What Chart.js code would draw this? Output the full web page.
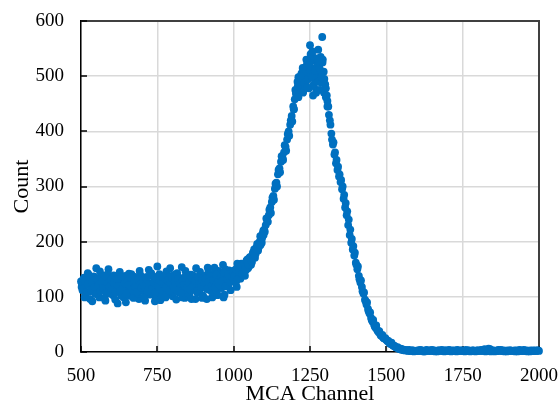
<!DOCTYPE html>
<html><head><meta charset="utf-8">
<script src="https://cdn.jsdelivr.net/npm/chart.js@4"></script>
<style>html,body{margin:0;padding:0;background:#fff}#wrap{width:560px;height:405px}</style>
</head><body><div id="wrap"><canvas id="c" width="560" height="405"></canvas></div>
<script>
// MCA channel readings, series A: channels 500, 505, ... 2000
const channelStartA = 500;
const channelStep = 5;
const countsA = [
  // 500-595
  128,112,135,104,122,140,96,118,131,108,152,125,99,137,115,121,93,128,150,110,
  // 600-695
  132,103,124,117,88,134,109,127,99,138,113,129,102,141,120,107,133,116,96,139,
  // 700-795
  122,111,93,136,125,104,143,118,130,98,155,121,94,135,112,127,146,106,124,138,
  // 800-895
  101,129,117,143,108,132,154,114,98,137,123,105,140,119,128,96,134,111,145,120,
  // 900-995
  102,138,126,153,113,131,99,142,121,109,147,127,116,158,104,136,124,148,112,139,
  // 1000-1095
  130,145,118,152,138,160,142,156,148,168,155,172,163,180,171,190,184,200,205,215,
  // 1100-1195
  222,230,238,248,262,272,283,296,307,322,333,345,352,362,372,385,400,412,428,445,
  // 1200-1295
  458,470,482,476,495,488,510,498,522,505,556,515,465,528,492,520,500,535,571,508,
  // 1300-1395
  485,465,445,420,396,376,358,342,330,318,308,295,278,262,248,230,212,198,186,175,
  // 1400-1495
  162,150,138,126,118,106,95,86,78,70,62,55,50,44,40,36,32,29,26,24,
  // 1500-1595
  22,19,17,15,13,11,9,8,6,5,4,4,3,3,2,4,2,3,1,2,
  // 1600-1695
  2,2,4,3,2,1,3,2,2,3,4,2,1,2,3,2,3,2,1,3,
  // 1700-1795
  2,4,2,3,2,2,1,3,2,3,2,2,4,2,3,1,2,3,2,2,
  // 1800-1895
  3,2,4,3,2,1,2,6,5,3,2,1,2,3,2,4,2,3,2,1,
  // 1900-1995
  2,3,2,2,3,2,1,3,2,2,4,2,3,2,1,2,3,2,2,3,
  // 2000
  2
];
// series B: channels 502, 507, ... 1997
const channelStartB = 502;
const countsB = [
  // 502-597
  118,131,99,126,143,109,122,92,137,115,128,104,146,119,133,97,124,140,106,121,
  // 602-697
  113,139,95,128,121,145,102,117,134,90,126,142,111,124,98,136,119,105,147,125,
  // 702-797
  133,99,128,115,149,107,123,137,92,126,118,141,103,131,117,99,136,124,152,110,
  // 802-897
  127,140,95,121,135,113,99,126,147,108,132,118,96,139,124,152,107,130,115,98,
  // 902-997
  134,120,96,145,128,110,137,153,118,103,131,125,141,99,150,128,119,137,145,128,
  // 1002-1097
  148,125,160,140,133,158,150,138,165,152,170,158,176,186,178,196,190,210,198,220,
  // 1102-1197
  218,242,236,258,252,280,276,305,300,330,326,355,348,375,365,395,392,420,418,440,
  // 1202-1297
  475,462,498,480,505,470,515,490,528,478,510,538,482,505,475,548,512,488,530,495,
  // 1302-1397
  478,455,430,412,385,380,362,348,336,322,312,300,285,270,255,240,222,205,192,180,
  // 1402-1497
  158,155,132,130,110,108,92,90,74,72,58,58,46,48,38,38,30,31,25,25,
  // 1502-1597
  21,20,15,17,12,11,8,9,6,6,5,3,4,3,3,2,2,3,2,2,
  // 1602-1697
  3,2,2,3,1,2,4,2,3,2,2,3,2,1,3,2,4,2,3,2,
  // 1702-1797
  2,3,1,2,3,2,4,2,2,3,2,1,2,3,2,2,3,2,1,3,
  // 1802-1897
  2,2,3,2,5,4,3,2,1,2,3,2,2,4,2,3,2,1,2,3,
  // 1902-1997
  2,3,2,2,1,3,2,4,2,2,3,2,1,2,3,2,2,3,2,3
];
// series C: channels 503, 508, ... 1098 (dense baseline)
const channelStartC = 503;
const countsC = [
  // 503-598
  121,115,130,109,124,136,112,127,118,105,133,122,110,128,116,139,107,125,119,131,
  // 603-698
  114,126,108,132,120,111,137,117,124,106,129,121,135,113,126,118,109,131,122,116,
  // 703-798
  127,119,134,110,123,138,115,126,108,132,120,129,113,136,121,117,130,111,125,135,
  // 803-898
  119,128,112,133,124,107,130,121,138,116,126,113,134,120,129,110,136,123,118,131,
  // 903-998
  125,133,114,128,138,120,131,117,140,126,122,136,129,144,119,133,141,127,137,146,
  // 1003-1098
  138,150,132,146,155,141,160,150,166,158,172,164,180,176,188,184,196,194,206,212
];
// additional readings in the crowded peak region
const peakChannels = [1197,1204,1209,1212,1219,1222,1226,1228,1231,1238,1240,1243,1248,1252,1256,1258,1262,1266,1270,1273,1277,1281,1283,1288,1291,1296,1302,1307];
const peakCounts   = [ 440, 468, 490, 462, 500, 478, 515, 472, 488, 530, 480, 495, 520, 540, 498, 545, 485, 510, 470, 532, 490, 515, 475, 498, 525, 470, 462, 445];

const xTicks = [500,750,1000,1250,1500,1750,2000];
const yTicks = [0,100,200,300,400,500,600];

const points = countsA.map((v,i)=>({x: channelStartA + i*channelStep, y: v}))
  .concat(countsB.map((v,i)=>({x: channelStartB + i*channelStep, y: v})))
  .concat(countsC.map((v,i)=>({x: channelStartC + i*channelStep, y: v})))
  .concat(peakChannels.map((c,i)=>({x: c, y: peakCounts[i]})));

const serif = "'Liberation Serif','Times New Roman',serif";

const framePlugin = {
  id: 'frame',
  beforeDatasetsDraw(chart){
    const {ctx, chartArea:a, scales:{x, y}} = chart;
    ctx.save();
    ctx.strokeStyle = '#404040';
    ctx.lineWidth = 2;
    ctx.beginPath();
    ctx.moveTo(a.left, a.top); ctx.lineTo(a.right, a.top); ctx.lineTo(a.right, a.bottom);
    ctx.stroke();
    ctx.strokeStyle = '#000';
    ctx.lineWidth = 1.5;
    ctx.beginPath();
    xTicks.forEach(t=>{ const p = Math.round(x.getPixelForValue(t)); ctx.moveTo(p, a.bottom); ctx.lineTo(p, a.bottom-6); });
    yTicks.forEach(t=>{ const p = Math.round(y.getPixelForValue(t)); ctx.moveTo(a.left, p); ctx.lineTo(a.left+6, p); });
    ctx.stroke();
    ctx.restore();
  }
};

new Chart(document.getElementById('c'), {
  type: 'scatter',
  data: { datasets: [{
    data: points,
    backgroundColor: '#0070C0',
    borderWidth: 0,
    pointRadius: 3.9,
    pointHoverRadius: 3.9,
    clip: false
  }]},
  options: {
    responsive: false,
    animation: false,
    devicePixelRatio: 1,
    layout: { padding: { left: 0, right: 21, top: 21, bottom: 0 } },
    plugins: { legend: { display: false }, tooltip: { enabled: false } },
    scales: {
      x: {
        type: 'linear', min: 500, max: 2000,
        afterBuildTicks(s){ s.ticks = xTicks.map(v=>({value:v})); },
        afterFit(s){ s.height = 53; s.paddingLeft = 0; s.paddingRight = 0; },
        grid: { color: '#d9d9d9', lineWidth: 1.5, drawTicks: false },
        border: { color: '#000', width: 1.5 },
        ticks: { color: '#000', padding: 13, maxRotation: 0, callback: v => String(v), font: { family: serif, size: 19 } },
        title: { display: true, text: 'MCA Channel', color: '#000', padding: {top:0, bottom:0}, font: { family: serif, size: 22, lineHeight: 1 } }
      },
      y: {
        min: 0, max: 600,
        afterBuildTicks(s){ s.ticks = yTicks.map(v=>({value:v})); },
        afterFit(s){ s.width = 81; s.paddingTop = 0; s.paddingBottom = 0; },
        grid: { color: '#d9d9d9', lineWidth: 1.5, drawTicks: false },
        border: { color: '#000', width: 1.5 },
        ticks: { color: '#000', padding: 17, callback: v => String(v), font: { family: serif, size: 19 } },
        title: { display: true, text: 'Count', color: '#000', padding: {top:11, bottom:0}, font: { family: serif, size: 22, lineHeight: 1 } }
      }
    }
  },
  plugins: [framePlugin]
});
</script>
</body></html>
